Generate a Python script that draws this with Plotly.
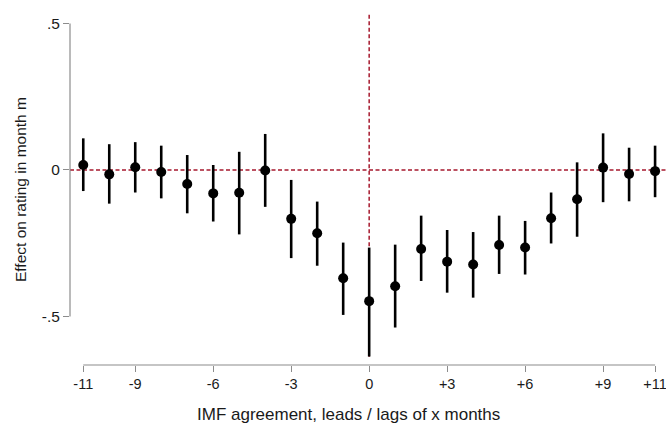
import plotly.graph_objects as go

months = [-11, -10, -9, -8, -7, -6, -5, -4, -3, -2, -1, 0, 1, 2, 3, 4, 5, 6, 7, 8, 9, 10, 11]
effect = [0.017, -0.015, 0.009, -0.007, -0.048, -0.080, -0.078, -0.002, -0.167, -0.216, -0.370,
          -0.448, -0.397, -0.270, -0.313, -0.323, -0.256, -0.265, -0.165, -0.100, 0.008, -0.014, -0.004]
ci_high = [0.108, 0.088, 0.095, 0.083, 0.051, 0.017, 0.062, 0.123, -0.034, -0.108, -0.248,
           -0.265, -0.255, -0.156, -0.205, -0.212, -0.156, -0.174, -0.077, 0.026, 0.125, 0.076, 0.083]
ci_low = [-0.072, -0.115, -0.077, -0.097, -0.148, -0.176, -0.220, -0.126, -0.301, -0.327, -0.495,
          -0.637, -0.538, -0.379, -0.419, -0.436, -0.355, -0.357, -0.251, -0.228, -0.110, -0.107, -0.093]

x_tickvals = [-11, -9, -6, -3, 0, 3, 6, 9, 11]
x_ticktext = ["-11", "-9", "-6", "-3", "0", "+3", "+6", "+9", "+11"]
y_tickvals = [-0.5, 0, 0.5]
y_ticktext = ["-.5", "0", ".5"]

RED = "#a6192e"
GRAY = "#8c8c8c"
FONT = "Liberation Sans, Arial, sans-serif"
DASH = "4px,2.5px"

fig = go.Figure()

# reference lines
fig.add_shape(type="line", xref="paper", yref="y", x0=0, x1=1, y0=0, y1=0,
              line=dict(color=RED, width=1.5, dash=DASH), layer="below")
fig.add_shape(type="line", xref="x", yref="y", x0=0, x1=0, y0=-0.638, y1=0.536,
              line=dict(color=RED, width=1.5, dash=DASH), layer="below")

# axis lines (Stata style, spanning ticks only)
fig.add_shape(type="line", xref="paper", yref="y", x0=0, x1=0, y0=-0.5, y1=0.5,
              line=dict(color=GRAY, width=1.2))
fig.add_shape(type="line", xref="x", yref="paper", x0=-11, x1=11, y0=0, y1=0,
              line=dict(color=GRAY, width=1.2))

fig.add_trace(go.Scatter(
    x=months, y=effect, mode="markers",
    marker=dict(color="black", size=10),
    error_y=dict(type="data", symmetric=False,
                 array=[h - e for h, e in zip(ci_high, effect)],
                 arrayminus=[e - l for e, l in zip(effect, ci_low)],
                 color="black", thickness=2.6, width=0),
    showlegend=False, cliponaxis=False,
))

fig.update_xaxes(range=[-11.51, 11.42], tickvals=x_tickvals, ticktext=x_ticktext,
                 showgrid=False, zeroline=False, showline=False, automargin=False,
                 ticks="outside", ticklen=6, tickcolor=GRAY, tickwidth=1.2,
                 ticklabeloverflow="allow",
                 tickfont=dict(family=FONT, size=14.5, color="#1a1a1a"))
fig.update_yaxes(range=[-0.666, 0.536], tickvals=y_tickvals, ticktext=y_ticktext,
                 showgrid=False, zeroline=False, showline=False, automargin=False,
                 ticks="outside", ticklen=6, tickcolor=GRAY, tickwidth=1.2,
                 tickfont=dict(family=FONT, size=15.5, color="#1a1a1a"))

fig.add_annotation(text="IMF agreement, leads / lags of x months", xref="paper", yref="paper",
                   x=(348 - 70) / 596, y=(365 - 414) / 352, showarrow=False,
                   font=dict(family=FONT, size=17, color="#1a1a1a"), xanchor="center", yanchor="middle")
fig.add_annotation(text="Effect on rating in month m", xref="paper", yref="paper",
                   x=(20 - 70) / 596, y=(365 - 190) / 352, showarrow=False, textangle=-90,
                   font=dict(family=FONT, size=15.5, color="#1a1a1a"), xanchor="center", yanchor="middle")

fig.update_layout(width=666, height=426, margin=dict(l=70, r=0, t=13, b=61),
                  plot_bgcolor="white", paper_bgcolor="white")

fig.write_html("out.html", config={"displayModeBar": False},
               post_script="document.body.style.margin='0';")
